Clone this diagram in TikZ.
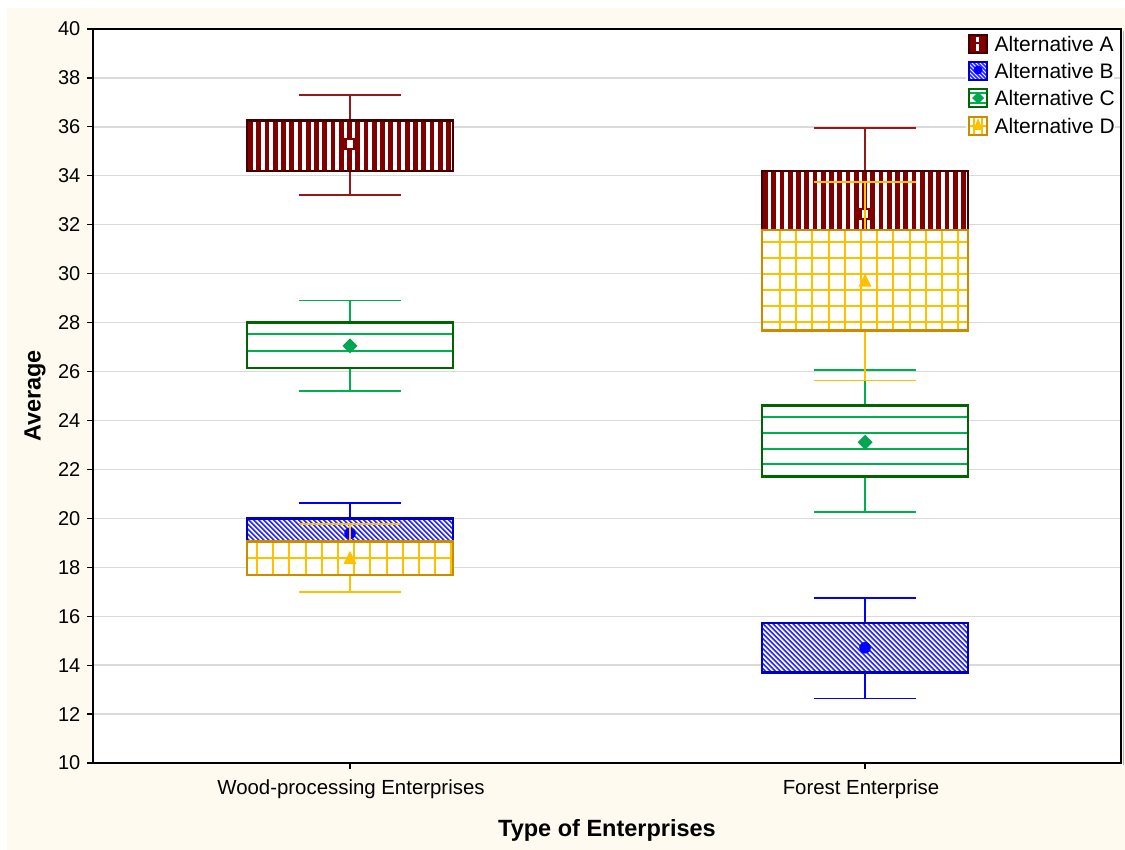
\documentclass[tikz,border=0pt]{standalone}
\usepackage{fontspec}
\setmainfont{Liberation Sans}
\definecolor{cream}{RGB}{255,250,239}
\definecolor{gridc}{RGB}{218,218,218}
\definecolor{Acol}{RGB}{128,0,0}
\definecolor{Aborder}{RGB}{64,0,0}
\definecolor{Awhisk}{RGB}{150,25,25}
\definecolor{Bcol}{RGB}{0,0,255}
\definecolor{Bborder}{RGB}{0,0,190}
\definecolor{Ccol}{RGB}{0,176,80}
\definecolor{Cborder}{RGB}{0,100,0}
\definecolor{Cmark}{RGB}{0,166,80}
\definecolor{Dcol}{RGB}{255,192,0}
\definecolor{Dborder}{RGB}{204,140,0}
\tikzset{
  whiskA/.style={draw=Awhisk, line width=1.8pt},
  whiskB/.style={draw=Bcol, line width=1.8pt},
  whiskC/.style={draw=Ccol, line width=1.8pt},
  whiskD/.style={draw=Dcol, line width=1.8pt},
  borderA/.style={draw=Aborder, line width=2.6pt},
  borderB/.style={draw=Bborder, line width=2.6pt},
  borderC/.style={draw=Cborder, line width=2.6pt},
  borderD/.style={draw=Dborder, line width=2.6pt},
  gridline/.style={draw=gridc, line width=1.4pt},
  ticklab/.style={font=\fontsize{20}{23}\selectfont, anchor=east, inner sep=0pt},
  catlab/.style={font=\fontsize{20.4}{24}\selectfont},
  axtitle/.style={font=\bfseries\fontsize{23.5}{27}\selectfont},
  legtext/.style={font=\fontsize{21}{24}\selectfont, anchor=west, inner sep=0.5pt, fill=white},
}
\newcommand\markA[2]{\draw[Acol, line width=2.4pt, fill=white] (#1-4.5,#2-5) rectangle (#1+4.5,#2+5);}
\newcommand\markB[2]{\fill[Bcol] (#1,#2) circle (5.8);}
\newcommand\markC[2]{\fill[Cmark] (#1,#2-7.5) -- (#1+7.5,#2) -- (#1,#2+7.5) -- (#1-7.5,#2) -- cycle;}
\newcommand\markD[2]{\fill[Dcol] (#1,#2-8) -- (#1+6.5,#2+5) -- (#1-6.5,#2+5) -- cycle;}
% #1 xc, #2 box low, #3 box high, #4 whisker low, #5 whisker high, #6 mean, #7 series, #8 pattern code
\newcommand\drawbox[8]{%
  \pgfmathsetmacro\bxL{#1-103}\pgfmathsetmacro\bxR{#1+103}%
  \pgfmathsetmacro\cpL{#1-51}\pgfmathsetmacro\cpR{#1+51}%
  \pgfmathsetmacro\bxT{Y(#3)}\pgfmathsetmacro\bxB{Y(#2)}%
  \pgfmathsetmacro\bxH{\bxB-\bxT}%
  \pgfmathsetmacro\wkT{Y(#5)}\pgfmathsetmacro\wkB{Y(#4)}%
  \pgfmathsetmacro\mnY{Y(#6)}%
  \draw[whisk#7] (#1,\wkB) -- (#1,\wkT) (\cpL,\wkB) -- (\cpR,\wkB) (\cpL,\wkT) -- (\cpR,\wkT);
  \fill[white] (\bxL,\bxT) rectangle (\bxR,\bxB);
  \begin{scope}
    \clip (\bxL,\bxT) rectangle (\bxR,\bxB);
    #8
  \end{scope}
  \draw[border#7] (\bxL,\bxT) rectangle (\bxR,\bxB);
  \csname mark#7\endcsname{#1}{\mnY}
}
\newcommand\patA{\foreach \i in {0,...,25}{\draw[Acol, line width=4.6pt] (\bxL+3.5+\i*8.25,\bxT) -- (\bxL+3.5+\i*8.25,\bxB);}}
\newcommand\patB{\foreach \i in {-12,...,42}{\draw[Bcol!85, line width=1.6pt] (\bxL+\i*5,\bxT) -- ++(\bxH,\bxH);}}
\newcommand\patC[1]{\foreach \yy in {#1}{\draw[Ccol, line width=1.9pt] (\bxL,\yy) -- (\bxR,\yy);}}
\newcommand\patD[2]{\foreach \i in {0,...,13}{\draw[Dcol, line width=1.9pt] (#1+\i*16.2,\bxT) -- (#1+\i*16.2,\bxB);}
  \foreach \yy in {#2}{\draw[Dcol, line width=1.9pt] (\bxL,\yy) -- (\bxR,\yy);}}
\begin{document}
\begin{tikzpicture}[x=1pt,y=-1pt, declare function={Y(\v)=763-(\v-10)*24.4667;}]
\useasboundingbox (0,0) rectangle (1125,850);
\fill[white] (0,0) rectangle (1125,850);
\fill[cream] (7,8) rectangle (1125,850);
\fill[white] (93,29) rectangle (1121,763);
% grid
\foreach \v in {12,14,...,38}{\draw[gridline] (93,{Y(\v)}) -- (1121,{Y(\v)});}
% ticks and labels
\foreach \v in {10,12,...,40}{
  \draw[black, line width=1.2pt] (87,{Y(\v)}) -- (93,{Y(\v)});
  \node[ticklab] (t\v) at (80.5,{Y(\v)}) {\v};
}
\draw[black, line width=1.2pt] (350,763) -- (350,769) (865,763) -- (865,769);
% Wood-processing
\drawbox{350}{34.2}{36.27}{33.2}{37.3}{35.3}{A}{\patA}
\drawbox{350}{19.05}{20.0}{18.15}{20.64}{19.39}{B}{\patB}
\drawbox{350}{26.15}{28.0}{25.2}{28.9}{27.05}{C}{\patC{334,351}}
\drawbox{350}{17.68}{19.05}{17.0}{19.76}{18.34}{D}{\patD{257}{558}}
% Forest
\drawbox{865}{31.78}{34.2}{29.9}{35.96}{32.43}{A}{\patA}
\drawbox{865}{13.71}{15.73}{12.64}{16.76}{14.71}{B}{\patB}
\drawbox{865}{21.7}{24.6}{20.26}{26.05}{23.11}{C}{\patC{417,433,449,464}}
\drawbox{865}{27.67}{31.78}{25.63}{33.76}{29.67}{D}{\patD{780}{242,258,274,290,306,322}}
% legend
\fill[white] (966,33) rectangle (1111,138);
\newcommand\legbox[4]{%
  \fill[white] (969,#1-9) rectangle (987,#1+9);
  \begin{scope}\clip (969,#1-9) rectangle (987,#1+9); #3 \end{scope}
  \draw[border#2, line width=2pt] (969,#1-9) rectangle (987,#1+9);
  \node[legtext] (leg#2) at (994,#1) {#4};
}
\legbox{44}{A}{\fill[Acol] (969,35) rectangle (987,53); \fill[white] (976,37) rectangle (979,42); \fill[white] (976,44) rectangle (979,51);}{Alternative A}
\legbox{71}{B}{\foreach \i in {-4,...,6}{\draw[Bcol!85, line width=1.5pt] (969+\i*4,62) -- ++(18,18);} \fill[Bcol] (978,70) circle (4.5);}{Alternative B}
\legbox{98}{C}{\draw[Ccol, line width=1.5pt] (969,93) -- (987,93) (969,103) -- (987,103); \fill[Cmark] (978,92) -- (984,98) -- (978,104) -- (972,98) -- cycle;}{Alternative C}
\legbox{126}{D}{\draw[Dcol, line width=1.2pt] (974,117) -- (974,135) (982,117) -- (982,135) (969,126) -- (987,126); \fill[Dcol] (978,118) -- (982.5,130) -- (973.5,130) -- cycle;}{Alternative D}
% frame
\draw[gray!60, line width=1.5pt] (1123.5,31) -- (1123.5,765);
\draw[black, line width=2pt] (93,29) rectangle (1121,763);
% labels
\node[catlab] (cat1) at (351,789) {Wood-processing Enterprises};
\node[catlab] (cat2) at (861,789) {Forest Enterprise};
\node[axtitle] (xt) at (607,830) {Type of Enterprises};
\node[axtitle, rotate=90] (yt) at (35,396) {Average};
\end{tikzpicture}
\end{document}
